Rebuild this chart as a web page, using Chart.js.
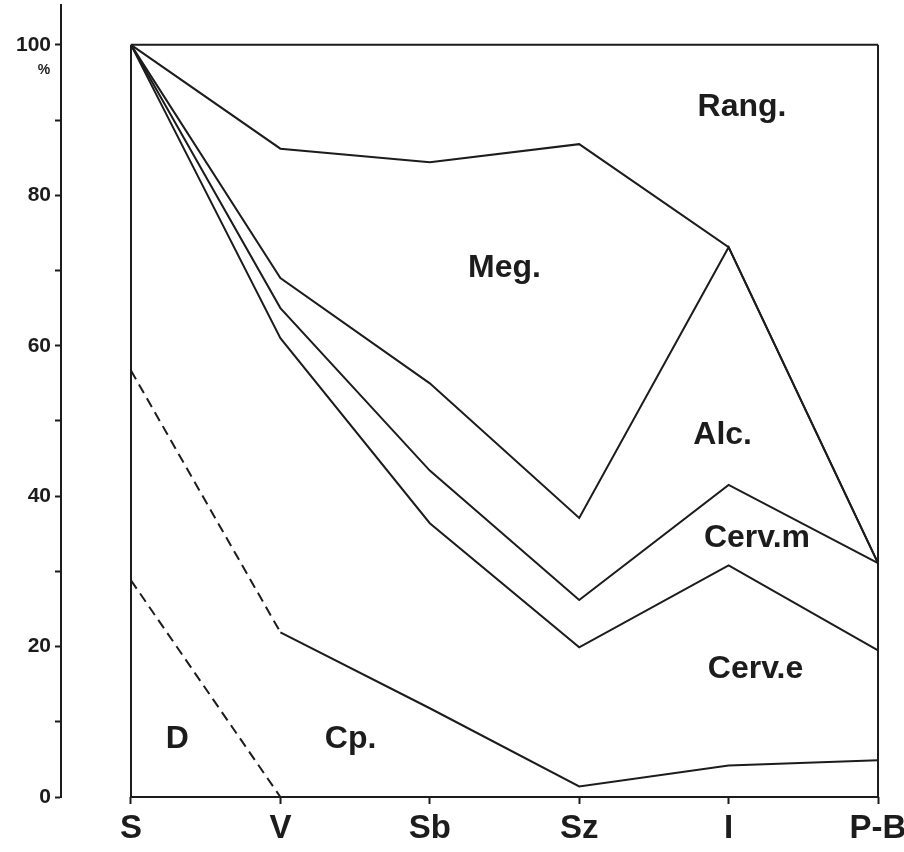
<!DOCTYPE html>
<html>
<head>
<meta charset="utf-8">
<script src="https://cdn.jsdelivr.net/npm/chart.js@4"></script>
<style>
  html, body { margin: 0; padding: 0; background: #fff; }
  #wrap { width: 904px; height: 852px; }
</style>
</head>
<body>
<div id="wrap"><canvas id="chart"></canvas></div>
<script>
// categories along the bottom
const categories = ['S', 'V', 'Sb', 'Sz', 'I', 'P-B'];

// upper boundary of each band (%)
const rangTop  = [100, 100, 100, 100, 100, 100];
const megTop   = [100, 86.2, 84.4, 86.8, 73.1, 31.1];
const alcTop   = [100, 69.0, 55.0, 37.1, 73.1, 31.1];
const cervmTop = [100, 65.0, 43.4, 26.2, 41.5, 31.1];
const cerveTop = [100, 61.0, 36.4, 19.9, 30.8, 19.5];
const cpTop    = [56.7, 21.9, 11.8, 1.4, 4.2, 4.9];
const dTop     = [28.8, 0];
const baseLine = [0, 0, 0, 0, 0, 0];

// y axis tick labels
const yLabels = [0, 20, 40, 60, 80, 100];

// band names and where they sit (category index, %)
const bandNames = ['Rang.', 'Meg.', 'Alc.', 'Cerv.m', 'Cerv.e', 'Cp.', 'D'];
const bandX     = [4.09, 2.50, 3.96, 4.19, 4.18, 1.47, 0.31];
const bandY     = [91.7, 70.3, 48.1, 34.4, 17.0, 7.7, 7.7];

const ink = '#1c1c1c';

function toPoints(arr) {
    return arr.map((v, i) => ({ x: i, y: v }));
}

function line(data, extra) {
    return Object.assign({
        data: data,
        borderColor: ink,
        borderWidth: 2,
        pointRadius: 0,
        tension: 0,
        fill: false,
        clip: false
    }, extra || {});
}

const last = categories.length - 1;

const labelPlugin = {
    id: 'bandLabels',
    afterDatasetsDraw(chart) {
        const { ctx, scales } = chart;
        ctx.save();
        ctx.fillStyle = ink;
        ctx.textAlign = 'center';
        ctx.textBaseline = 'middle';
        ctx.font = 'bold 32px "Liberation Sans", Arial, sans-serif';
        bandNames.forEach((name, i) => {
            ctx.fillText(name, scales.x.getPixelForValue(bandX[i]), scales.y.getPixelForValue(bandY[i]));
        });
        // percent sign under the 100 tick
        ctx.font = 'bold 14px "Liberation Sans", Arial, sans-serif';
        ctx.fillText('%', scales.y.left + scales.y.width - 17, scales.y.getPixelForValue(96.7));
        ctx.restore();
    }
};

new Chart(document.getElementById('chart'), {
    type: 'line',
    data: {
        datasets: [
            line(toPoints(rangTop)),
            line(toPoints(megTop)),
            line(toPoints(alcTop)),
            line(toPoints(cervmTop)),
            line(toPoints(cerveTop)),
            line(toPoints(cpTop), {
                segment: { borderDash: ctx => ctx.p0DataIndex === 0 ? [10, 6] : undefined }
            }),
            line(toPoints(dTop), { borderDash: [10, 6] }),
            line(toPoints(baseLine)),
            line([{ x: 0, y: baseLine[0] }, { x: 0, y: rangTop[0] }]),
            line([{ x: last, y: baseLine[last] }, { x: last, y: rangTop[last] }])
        ]
    },
    options: {
        responsive: true,
        maintainAspectRatio: false,
        animation: false,
        layout: { padding: { left: 0, right: 23, top: 5, bottom: 0 } },
        plugins: {
            legend: { display: false },
            tooltip: { enabled: false }
        },
        scales: {
            x: {
                type: 'linear',
                min: -0.4685,
                max: 5.02,
                border: { display: false },
                grid: {
                    drawOnChartArea: false,
                    drawTicks: true,
                    tickLength: 7,
                    tickWidth: 2,
                    color: ink
                },
                ticks: {
                    stepSize: 1,
                    includeBounds: false,
                    autoSkip: false,
                    maxRotation: 0,
                    padding: 5,
                    color: ink,
                    font: { family: '"Liberation Sans", Arial, sans-serif', size: 33, weight: 'bold' },
                    callback: v => categories[v] !== undefined ? categories[v] : ''
                },
                afterFit: s => { s.height = 55; s.paddingLeft = 0; s.paddingRight = 0; }
            },
            y: {
                min: 0,
                max: 105.3,
                border: { display: true, color: ink, width: 2 },
                grid: {
                    drawOnChartArea: false,
                    drawTicks: true,
                    tickLength: 6,
                    tickWidth: 2,
                    color: ink
                },
                ticks: {
                    stepSize: 10,
                    includeBounds: false,
                    padding: 4,
                    color: ink,
                    font: { family: '"Liberation Sans", Arial, sans-serif', size: 21, weight: 'bold' },
                    callback: v => yLabels.includes(v) ? String(v) : ''
                },
                afterFit: s => { s.width = 61; s.paddingTop = 0; s.paddingBottom = 0; }
            }
        }
    },
    plugins: [labelPlugin]
});
</script>
</body>
</html>
